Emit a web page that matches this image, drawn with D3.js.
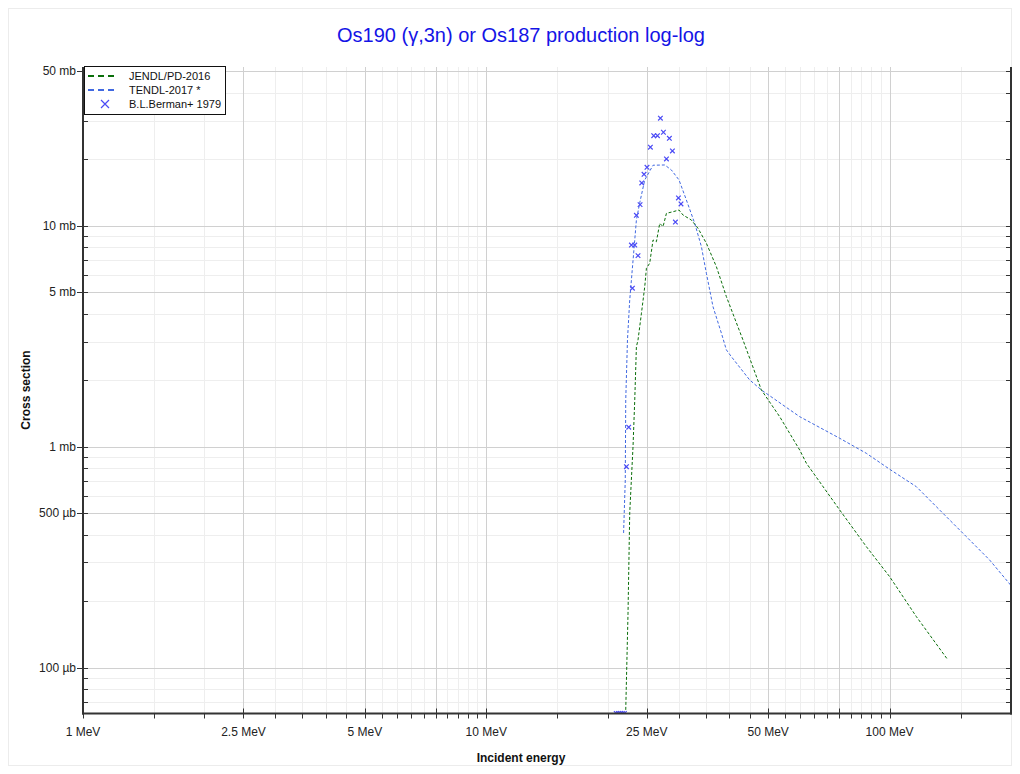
<!DOCTYPE html>
<html>
<head>
<meta charset="utf-8">
<script src="https://cdn.jsdelivr.net/npm/d3@7"></script>
<style>
  html, body { margin: 0; padding: 0; background: #fff; }
  svg { display: block; font-family: "Liberation Sans", Arial, sans-serif; }
</style>
</head>
<body>
<svg id="chart" width="1020" height="774"></svg>
<script>
// ---------------- DATA ----------------
const title = "Os190 (γ,3n) or Os187 production log-log";
const xTitle = "Incident energy";
const yTitle = "Cross section";
const seriesNames = ["JENDL/PD-2016", "TENDL-2017 *", "B.L.Berman+ 1979"];

// JENDL/PD-2016 (energy MeV, cross section mb)
const jendlE  = [22.17, 22.46, 22.68, 23.11, 23.34, 23.56, 23.78, 24.25, 24.71, 24.95, 25.42, 25.91, 26.41, 26.92, 27.43, 27.97, 29.04, 30.05, 30.74, 32.25, 33.49, 35.13, 37.20, 39.38, 43.29, 48.09, 53.39, 59.84, 62.18, 75.18, 87.56, 100, 116.5, 139.5];
const jendlXS = [0.0646, 0.177, 0.503, 1.003, 1.632, 2.84, 3.05, 4.03, 5.31, 6.44, 6.78, 8.64, 8.49, 10.28, 9.93, 11.41, 11.60, 11.81, 11.21, 10.64, 9.76, 8.35, 6.54, 4.79, 3.05, 1.811, 1.371, 0.969, 0.844, 0.519, 0.354, 0.259, 0.1707, 0.1087];

// TENDL-2017
const tendlE  = [21.9, 22.11, 22.17, 22.39, 22.68, 23.34, 23.56, 24.01, 24.71, 25.91, 27.70, 28.77, 30.05, 31.34, 32.87, 34.15, 35.13, 36.49, 38.28, 39.38, 40.53, 44.98, 48.09, 59.84, 75.18, 87.56, 100, 116.5, 135.6, 154.9, 177, 200];
const tendlXS = [0.408, 0.709, 1.632, 3.05, 4.63, 8.64, 10.64, 12.71, 16.15, 18.83, 18.88, 17.92, 16.15, 13.11, 10.28, 8.06, 6.11, 4.31, 3.27, 2.75, 2.56, 2.01, 1.811, 1.371, 1.095, 0.936, 0.793, 0.661, 0.501, 0.393, 0.308, 0.236];

// B.L.Berman+ 1979 (zero values are shown on the bottom edge)
const bermanE  = [21.0, 21.25, 21.5, 21.75, 22.0, 22.26, 22.55, 22.90, 23.03, 23.34, 23.56, 23.78, 24.06, 24.29, 24.61, 25.03, 25.52, 26.01, 26.57, 27.02, 27.49, 27.97, 28.44, 28.94, 29.44, 29.95, 30.39];
const bermanXS = [0, 0, 0, 0, 0, 0.814, 1.228, 8.20, 5.23, 8.20, 11.18, 7.34, 12.49, 15.65, 17.13, 18.43, 22.71, 25.62, 25.62, 30.72, 26.55, 20.10, 24.94, 21.85, 10.42, 13.39, 12.58];

// Axis ticks
const xMajor = [1, 2.5, 5, 7.5, 10, 25, 50, 75, 100];
const xLabeled = [1, 2.5, 5, 10, 25, 50, 100];
const xMinor = [1.5,2,3,3.5,4,4.5,5.5,6,6.5,7,8,8.5,9,9.5, 15,20,30,35,40,45,55,60,65,70,80,85,90,95, 150,200];
const yMajor = [0.1, 0.5, 1, 5, 10, 50];
const yMinor = [0.07,0.08,0.09, 0.2,0.3,0.4,0.6,0.7,0.8,0.9, 2,3,4,6,7,8,9, 20,30,40];

// ---------------- LAYOUT ----------------
const L = 83, R = 1011, T = 67, B = 713.5;
const colors = { jendl: "#0a6e0a", tendl: "#4169e1", berman: "#4b4bf5", title: "#1414e6" };

const svg = d3.select("#chart");
const x = d3.scaleLog().domain([1, 200]).range([L, R]);
const y = d3.scaleLog().domain([0.0622, 52.4]).range([B, T]).clamp(true);
const yv = v => y(Math.max(v, y.domain()[0]));

function fmtX(v) { return v + " MeV"; }
function fmtY(v) { return v >= 1 ? v + " mb" : Math.round(v * 1000) + " µb"; }

// faint outer frame
svg.append("rect").attr("x", 8.5).attr("y", 8.5).attr("width", 1003).attr("height", 757)
  .attr("fill", "none").attr("stroke", "#ececec");

// Title
svg.append("text").attr("x", 521).attr("y", 42).attr("text-anchor", "middle")
  .attr("font-size", 20).attr("fill", colors.title).text(title);

// Grid
const grid = svg.append("g");
grid.selectAll(".gxm").data(xMinor).join("line")
  .attr("x1", d => Math.round(x(d)) + 0.5).attr("x2", d => Math.round(x(d)) + 0.5)
  .attr("y1", T).attr("y2", B).attr("stroke", "#eeeeee");
grid.selectAll(".gym").data(yMinor).join("line")
  .attr("y1", d => Math.round(y(d)) + 0.5).attr("y2", d => Math.round(y(d)) + 0.5)
  .attr("x1", L).attr("x2", R).attr("stroke", "#eeeeee");
grid.selectAll(".gxM").data(xMajor).join("line")
  .attr("x1", d => Math.round(x(d)) + 0.5).attr("x2", d => Math.round(x(d)) + 0.5)
  .attr("y1", T).attr("y2", B).attr("stroke", "#d0d0d0");
grid.selectAll(".gyM").data(yMajor).join("line")
  .attr("y1", d => Math.round(y(d)) + 0.5).attr("y2", d => Math.round(y(d)) + 0.5)
  .attr("x1", L).attr("x2", R).attr("stroke", "#d0d0d0");

// Clip
svg.append("clipPath").attr("id", "clip").append("rect")
  .attr("x", L).attr("y", T).attr("width", R - L).attr("height", B - T);
const plot = svg.append("g").attr("clip-path", "url(#clip)");

const line = d3.line().x(d => x(d[0])).y(d => yv(d[1]));
plot.append("path").datum(tendlE.map((e, i) => [e, tendlXS[i]]))
  .attr("d", line).attr("fill", "none").attr("stroke", colors.tendl)
  .attr("stroke-width", 1).attr("stroke-dasharray", "3,2");
plot.append("path").datum(jendlE.map((e, i) => [e, jendlXS[i]]))
  .attr("d", line).attr("fill", "none").attr("stroke", colors.jendl)
  .attr("stroke-width", 1).attr("stroke-dasharray", "3,2");

const s = 2.3;
const crossPath = (cx, cy) => `M${cx - s},${cy - s}L${cx + s},${cy + s}M${cx - s},${cy + s}L${cx + s},${cy - s}`;
plot.selectAll(".bm").data(bermanE.map((e, i) => [e, bermanXS[i]])).join("path")
  .attr("d", d => crossPath(x(d[0]), yv(d[1])))
  .attr("fill", "none").attr("stroke", colors.berman).attr("stroke-width", 1.2);

// Axes
const ax = svg.append("g").attr("stroke", "#333");
ax.append("line").attr("x1", L).attr("x2", L).attr("y1", T).attr("y2", B + 1).attr("stroke-width", 2);
ax.append("line").attr("x1", R).attr("x2", R).attr("y1", T).attr("y2", B + 1).attr("stroke-width", 2);
ax.append("line").attr("x1", L - 1).attr("x2", R + 1).attr("y1", B).attr("y2", B).attr("stroke-width", 2);

// bottom ticks
ax.selectAll(".txm").data(xMinor.filter(v => v < 200)).join("line")
  .attr("x1", d => Math.round(x(d)) + 0.5).attr("x2", d => Math.round(x(d)) + 0.5)
  .attr("y1", B).attr("y2", B + 5).attr("stroke-width", 1);
ax.selectAll(".txM").data(xMajor).join("line")
  .attr("x1", d => Math.round(x(d)) + 0.5).attr("x2", d => Math.round(x(d)) + 0.5)
  .attr("y1", B - 5).attr("y2", B + 5).attr("stroke-width", 1);
// left ticks
ax.selectAll(".tym").data(yMinor).join("line")
  .attr("y1", d => Math.round(y(d)) + 0.5).attr("y2", d => Math.round(y(d)) + 0.5)
  .attr("x1", L).attr("x2", L + 5).attr("stroke-width", 1);
ax.selectAll(".tyM").data(yMajor).join("line")
  .attr("y1", d => Math.round(y(d)) + 0.5).attr("y2", d => Math.round(y(d)) + 0.5)
  .attr("x1", L - 6).attr("x2", L + 5).attr("stroke-width", 1);
// right ticks
ax.selectAll(".trm").data(yMinor.concat(yMajor)).join("line")
  .attr("y1", d => Math.round(y(d)) + 0.5).attr("y2", d => Math.round(y(d)) + 0.5)
  .attr("x1", R - 5).attr("x2", R).attr("stroke-width", 1);

// Tick labels
svg.selectAll(".xl").data(xLabeled).join("text")
  .attr("x", d => x(d)).attr("y", 735.5).attr("text-anchor", "middle")
  .attr("font-size", 12).attr("fill", "#222").text(fmtX);
svg.selectAll(".yl").data(yMajor).join("text")
  .attr("x", 76).attr("y", d => y(d) + 4).attr("text-anchor", "end")
  .attr("font-size", 12).attr("fill", "#222").text(fmtY);

// Axis titles
svg.append("text").attr("x", 521).attr("y", 762).attr("text-anchor", "middle")
  .attr("font-size", 12).attr("font-weight", "bold").attr("fill", "#111").text(xTitle);
svg.append("text").attr("transform", "translate(30,390) rotate(-90)").attr("text-anchor", "middle")
  .attr("font-size", 12).attr("font-weight", "bold").attr("fill", "#111").text(yTitle);

// Legend
const lg = svg.append("g");
lg.append("rect").attr("x", 84.5).attr("y", 66.5).attr("width", 141).attr("height", 48)
  .attr("fill", "#fff").attr("stroke", "#111").attr("stroke-width", 1);
const rowsY = [76, 90, 104];
lg.append("line").attr("x1", 88).attr("x2", 116).attr("y1", rowsY[0]).attr("y2", rowsY[0])
  .attr("stroke", colors.jendl).attr("stroke-width", 2).attr("stroke-dasharray", "6,4");
lg.append("line").attr("x1", 88).attr("x2", 116).attr("y1", rowsY[1]).attr("y2", rowsY[1])
  .attr("stroke", colors.tendl).attr("stroke-width", 2).attr("stroke-dasharray", "6,4");
lg.append("path").attr("d", `M${105 - 4},${rowsY[2] - 4}L${105 + 4},${rowsY[2] + 4}M${105 - 4},${rowsY[2] + 4}L${105 + 4},${rowsY[2] - 4}`)
  .attr("stroke", colors.berman).attr("stroke-width", 1.2).attr("fill", "none");
lg.selectAll(".lt").data(seriesNames).join("text")
  .attr("x", 129).attr("y", (d, i) => rowsY[i] + 4).attr("font-size", 11).attr("fill", "#111").text(d => d);
</script>
</body>
</html>
